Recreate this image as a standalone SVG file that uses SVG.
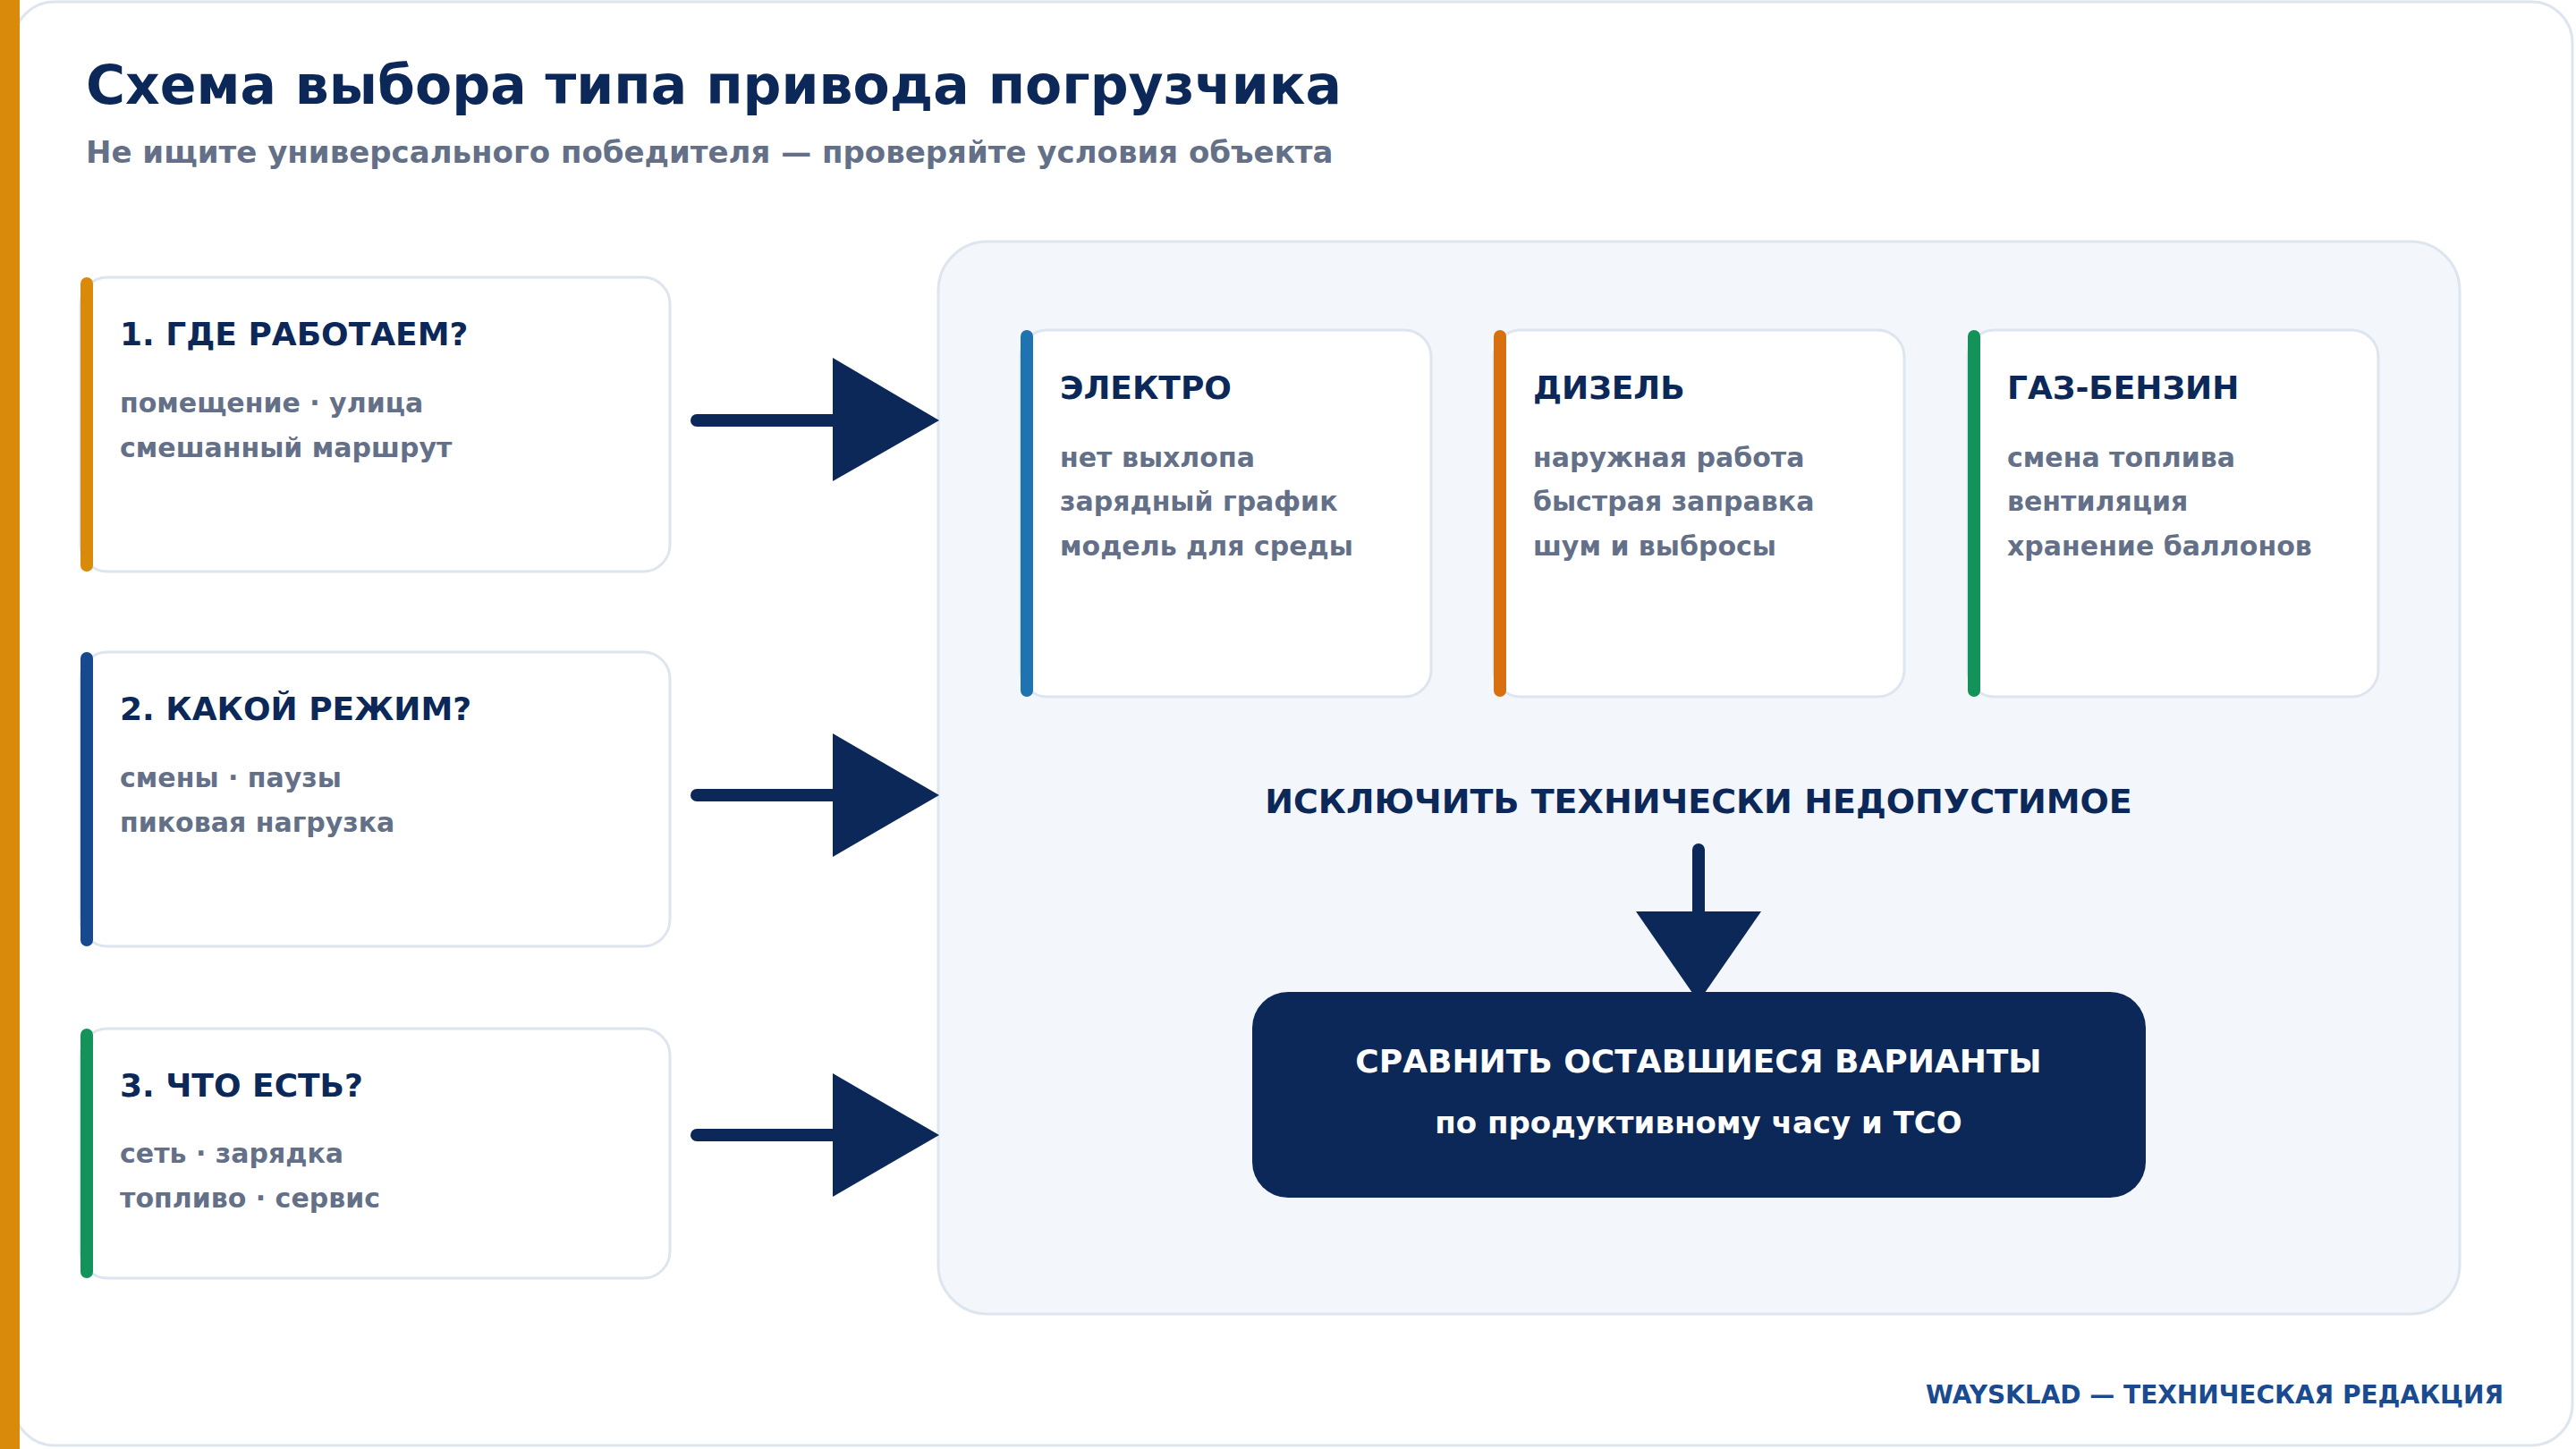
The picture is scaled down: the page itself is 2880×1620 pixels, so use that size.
<svg xmlns="http://www.w3.org/2000/svg" width="2880" height="1620" viewBox="0 0 2880 1620">
<style>
text{font-family:"DejaVu Sans",sans-serif;font-weight:bold}
.t{fill:#0b2858;font-size:36px}
.s{fill:#647088;font-size:30px}
.card{fill:#fff;stroke:#dde5ef;stroke-width:3}
.ar{stroke:#0b2858;stroke-width:14;stroke-linecap:round;fill:none}
.tri{fill:#0b2858}
</style>
<rect x="15" y="2" width="2861" height="1614" rx="46" fill="#fff" stroke="#dde5ef" stroke-width="3"/>
<rect x="0" y="0" width="22" height="1620" fill="#d98a0a"/>
<text x="96" y="116" font-size="60" fill="#0b2858">Схема выбора типа привода погрузчика</text>
<text x="96" y="182" font-size="34" fill="#647088">Не ищите универсального победителя — проверяйте условия объекта</text>
<g id="q1"><rect class="card" x="90" y="310" width="659" height="329" rx="30"/><rect x="90" y="310" width="14" height="329" rx="7" fill="#d98a0a"/>
<text class="t" x="134" y="386">1. ГДЕ РАБОТАЕМ?</text><text class="s" x="134" y="461">помещение · улица</text><text class="s" x="134" y="511">смешанный маршрут</text></g>
<g id="q2"><rect class="card" x="90" y="729" width="659" height="329" rx="30"/><rect x="90" y="729" width="14" height="329" rx="7" fill="#17498f"/>
<text class="t" x="134" y="805">2. КАКОЙ РЕЖИМ?</text><text class="s" x="134" y="880">смены · паузы</text><text class="s" x="134" y="930">пиковая нагрузка</text></g>
<g id="q3"><rect class="card" x="90" y="1150" width="659" height="279" rx="30"/><rect x="90" y="1150" width="14" height="279" rx="7" fill="#13925a"/>
<text class="t" x="134" y="1226">3. ЧТО ЕСТЬ?</text><text class="s" x="134" y="1300">сеть · зарядка</text><text class="s" x="134" y="1350">топливо · сервис</text></g>
<g id="panel"><rect x="1049" y="270" width="1701" height="1199" rx="55" fill="#f3f7fb" stroke="#dde5ef" stroke-width="3"/></g>
<g id="electro"><rect class="card" x="1141" y="369" width="459" height="410" rx="30"/><rect x="1141" y="369" width="14" height="410" rx="7" fill="#1e73b0"/>
<text class="t" x="1185" y="446">ЭЛЕКТРО</text><text class="s" x="1185" y="522">нет выхлопа</text><text class="s" x="1185" y="571">зарядный график</text><text class="s" x="1185" y="621">модель для среды</text></g>
<g id="diesel"><rect class="card" x="1670" y="369" width="459" height="410" rx="30"/><rect x="1670" y="369" width="14" height="410" rx="7" fill="#d9700f"/>
<text class="t" x="1714" y="446">ДИЗЕЛЬ</text><text class="s" x="1714" y="522">наружная работа</text><text class="s" x="1714" y="571">быстрая заправка</text><text class="s" x="1714" y="621">шум и выбросы</text></g>
<g id="gas"><rect class="card" x="2200" y="369" width="459" height="410" rx="30"/><rect x="2200" y="369" width="14" height="410" rx="7" fill="#13925a"/>
<text class="t" x="2244" y="446">ГАЗ-БЕНЗИН</text><text class="s" x="2244" y="522">смена топлива</text><text class="s" x="2244" y="571">вентиляция</text><text class="s" x="2244" y="621">хранение баллонов</text></g>
<g id="exclude"><text x="1899" y="909" font-size="38" fill="#0b2858" text-anchor="middle">ИСКЛЮЧИТЬ ТЕХНИЧЕСКИ НЕДОПУСТИМОЕ</text></g>
<g id="compare"><rect x="1400" y="1109" width="999" height="230" rx="40" fill="#0b2858"/>
<text x="1899" y="1199" font-size="36" fill="#fff" text-anchor="middle">СРАВНИТЬ ОСТАВШИЕСЯ ВАРИАНТЫ</text>
<text x="1899" y="1267" font-size="34" fill="#fff" text-anchor="middle">по продуктивному часу и TCO</text></g>
<g id="connectors">
<line class="ar" x1="779" y1="470" x2="940" y2="470"/><polygon class="tri" points="931,400 1050,470 931,538"/>
<line class="ar" x1="779" y1="889" x2="940" y2="889"/><polygon class="tri" points="931,820 1050,889 931,958"/>
<line class="ar" x1="779" y1="1269" x2="940" y2="1269"/><polygon class="tri" points="931,1200 1050,1269 931,1338"/>
<line class="ar" x1="1899" y1="950" x2="1899" y2="1025"/><polygon class="tri" points="1829,1019 1969,1019 1899,1120"/>
</g>
<text x="2799" y="1569" font-size="28" fill="#1a4a8f" text-anchor="end">WAYSKLAD — ТЕХНИЧЕСКАЯ РЕДАКЦИЯ</text>
</svg>
